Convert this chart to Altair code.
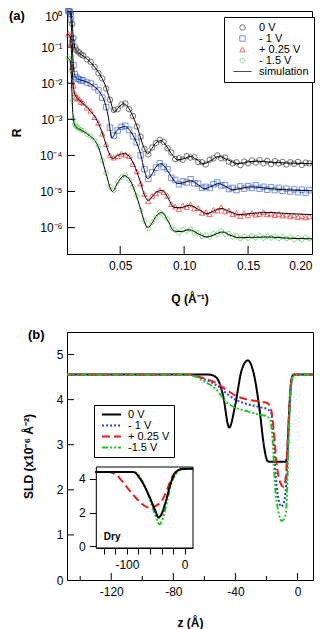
import altair as alt
import pandas as pd

FONT = "Liberation Sans"

# ---------------- Panel (a): reflectivity ----------------
SERIES_A = ["0 V", "- 1 V", "+ 0.25 V", "- 1.5 V"]
LEGEND_A = ["0 V", "- 1 V", "+ 0.25 V", "- 1.5 V", "simulation"]
COLORS_A = ["#333333", "#3d63dd", "#e8262b", "#3ec93e", "#000000"]
SHAPES_A = ["circle", "square", "triangle-up", "diamond", "M-3.3,0H3.3"]
WIDTHS_A = [1, 1, 1, 1, 2]

Q_DATA = [0.0095, 0.0105, 0.0115, 0.0125, 0.0135, 0.0145, 0.0155, 0.0167, 0.018, 0.0195,
          0.021, 0.024, 0.027, 0.030, 0.033, 0.036, 0.039, 0.042, 0.045, 0.048,
          0.051, 0.054, 0.057, 0.060, 0.063, 0.066, 0.069, 0.072, 0.075, 0.078,
          0.081, 0.084, 0.087, 0.090, 0.093, 0.096, 0.099, 0.102, 0.105, 0.108,
          0.111, 0.114, 0.117, 0.120, 0.123, 0.126, 0.129, 0.132, 0.135, 0.138,
          0.141, 0.144, 0.147, 0.150, 0.153, 0.156, 0.159, 0.162, 0.165, 0.168,
          0.171, 0.174, 0.177, 0.180, 0.183, 0.186, 0.189, 0.192, 0.195, 0.198]

# measured reflectivity, log10(R)
LOGR_0V = [0.01, -0.01, -0.09, -0.36, -0.75, -0.99, -1.07, -1.12, -1.15, -1.21,
           -1.23, -1.34, -1.41, -1.55, -1.72, -1.87, -2.15, -2.46, -2.74, -2.72,
           -2.59, -2.56, -2.72, -2.91, -3.20, -3.48, -3.82, -3.97, -3.78, -3.66,
           -3.57, -3.63, -3.80, -3.92, -4.10, -4.08, -4.12, -4.02, -4.06, -4.05,
           -4.18, -4.19, -4.25, -4.12, -4.08, -4.00, -4.08, -4.06, -4.17, -4.22,
           -4.19, -4.27, -4.17, -4.22, -4.14, -4.20, -4.13, -4.22, -4.15, -4.24,
           -4.16, -4.22, -4.18, -4.25, -4.19, -4.23, -4.18, -4.26, -4.20, -4.22]
LOGR_M1V = [0.00, -0.02, -0.23, -0.87, -1.50, -1.75, -1.83, -1.88, -1.89, -1.93,
            -1.92, -1.98, -2.01, -2.11, -2.20, -2.40, -2.66, -3.23, -3.45, -3.31,
            -3.21, -3.18, -3.29, -3.47, -3.64, -4.00, -4.38, -4.65, -4.47, -4.34,
            -4.22, -4.32, -4.38, -4.62, -4.68, -4.80, -4.72, -4.75, -4.66, -4.77,
            -4.78, -4.90, -4.87, -4.90, -4.80, -4.75, -4.83, -4.82, -4.93, -4.90,
            -4.96, -4.86, -4.92, -4.85, -4.90, -4.83, -4.92, -4.87, -4.95, -4.88,
            -4.96, -4.90, -4.98, -4.92, -5.00, -4.94, -5.02, -4.95, -5.03, -4.96]
LOGR_P025V = [-0.63, -0.67, -0.89, -1.55, -2.07, -2.28, -2.38, -2.41, -2.45, -2.52,
              -2.54, -2.68, -2.76, -2.94, -3.10, -3.40, -3.69, -4.00, -4.06, -4.02,
              -3.95, -3.98, -4.02, -4.24, -4.44, -4.78, -5.07, -5.27, -5.12, -5.05,
              -4.96, -5.02, -5.12, -5.35, -5.42, -5.49, -5.39, -5.43, -5.36, -5.47,
              -5.46, -5.59, -5.57, -5.63, -5.51, -5.53, -5.44, -5.55, -5.52, -5.63,
              -5.59, -5.68, -5.60, -5.66, -5.59, -5.64, -5.62, -5.57, -5.63, -5.61,
              -5.65, -5.62, -5.67, -5.64, -5.69, -5.66, -5.71, -5.68, -5.72, -5.69]
LOGR_M15V = [-1.29, -1.34, -1.65, -2.49, -2.99, -3.13, -3.20, -3.24, -3.25, -3.30,
             -3.31, -3.41, -3.47, -3.58, -3.75, -4.14, -4.49, -4.87, -4.97, -4.73,
             -4.60, -4.54, -4.68, -4.87, -5.12, -5.52, -5.81, -6.02, -5.85, -5.71,
             -5.57, -5.66, -5.76, -6.00, -6.07, -6.14, -6.06, -6.10, -6.04, -6.15,
             -6.14, -6.24, -6.21, -6.26, -6.16, -6.18, -6.09, -6.18, -6.16, -6.26,
             -6.23, -6.30, -6.24, -6.29, -6.23, -6.28, -6.22, -6.29, -6.23, -6.28,
             -6.24, -6.30, -6.25, -6.31, -6.26, -6.33, -6.28, -6.34, -6.26, -6.32]

# simulated curves, log10(R)
FIT_Q_0V = [0.0094, 0.0110, 0.0122, 0.0132, 0.0142, 0.0155, 0.018, 0.022, 0.026, 0.030,
            0.034, 0.038, 0.042, 0.0455, 0.049, 0.0525, 0.056, 0.060, 0.064, 0.068,
            0.0715, 0.075, 0.078, 0.082, 0.086, 0.090, 0.095, 0.100, 0.105, 0.110,
            0.115, 0.121, 0.127, 0.134, 0.142, 0.150, 0.158, 0.168, 0.180, 0.200]
FIT_LOGR_0V = [0.0, -0.02, -0.19, -0.67, -0.97, -1.09, -1.17, -1.27, -1.39, -1.55,
               -1.75, -2.03, -2.45, -2.79, -2.66, -2.57, -2.66, -2.92, -3.29, -3.73,
               -3.95, -3.80, -3.65, -3.59, -3.73, -3.95, -4.12, -4.09, -4.03, -4.12,
               -4.23, -4.14, -4.03, -4.12, -4.23, -4.18, -4.16, -4.19, -4.21, -4.23]
FIT_Q_M1V = [0.0094, 0.0108, 0.0118, 0.0128, 0.0138, 0.015, 0.018, 0.022, 0.026, 0.030,
             0.034, 0.038, 0.0405, 0.0435, 0.047, 0.050, 0.054, 0.058, 0.062, 0.066,
             0.069, 0.0715, 0.075, 0.078, 0.082, 0.086, 0.090, 0.095, 0.100, 0.105,
             0.110, 0.116, 0.121, 0.127, 0.132, 0.138, 0.145, 0.152, 0.160, 0.170,
             0.185, 0.200]
FIT_LOGR_M1V = [0.0, -0.04, -0.38, -1.17, -1.66, -1.83, -1.90, -1.94, -2.00, -2.10,
                -2.25, -2.54, -2.89, -3.51, -3.33, -3.23, -3.20, -3.33, -3.58, -3.97,
                -4.42, -4.64, -4.51, -4.32, -4.23, -4.37, -4.59, -4.78, -4.75, -4.70,
                -4.79, -4.92, -4.86, -4.78, -4.85, -4.95, -4.91, -4.87, -4.89, -4.93,
                -4.96, -4.98]
FIT_Q_P025V = [0.0094, 0.0108, 0.0118, 0.0128, 0.0138, 0.015, 0.018, 0.022, 0.026, 0.030,
               0.034, 0.037, 0.040, 0.044, 0.048, 0.0535, 0.058, 0.062, 0.066, 0.069,
               0.072, 0.0755, 0.079, 0.083, 0.087, 0.092, 0.097, 0.104, 0.111, 0.118,
               0.123, 0.129, 0.136, 0.143, 0.152, 0.166, 0.180, 0.200]
FIT_LOGR_P025V = [-0.65, -0.70, -1.07, -1.85, -2.20, -2.35, -2.47, -2.60, -2.74, -2.92,
                  -3.19, -3.48, -3.82, -4.09, -4.00, -3.95, -4.07, -4.36, -4.76, -5.10,
                  -5.25, -5.12, -5.00, -4.97, -5.15, -5.44, -5.45, -5.38, -5.49, -5.61,
                  -5.54, -5.47, -5.56, -5.64, -5.61, -5.58, -5.61, -5.64]
FIT_Q_M15V = [0.0094, 0.0108, 0.0118, 0.0128, 0.0138, 0.015, 0.018, 0.022, 0.026, 0.030,
              0.033, 0.036, 0.039, 0.044, 0.048, 0.0535, 0.058, 0.062, 0.066, 0.069,
              0.0715, 0.075, 0.078, 0.0825, 0.087, 0.092, 0.097, 0.104, 0.111, 0.118,
              0.124, 0.130, 0.136, 0.143, 0.152, 0.166, 0.180, 0.200]
FIT_LOGR_M15V = [-1.31, -1.36, -1.80, -2.74, -3.09, -3.19, -3.27, -3.35, -3.45, -3.58,
                 -3.77, -4.12, -4.51, -5.00, -4.76, -4.56, -4.71, -5.05, -5.49, -5.84,
                 -6.00, -5.87, -5.69, -5.58, -5.79, -6.09, -6.11, -6.06, -6.17, -6.26,
                 -6.19, -6.12, -6.21, -6.28, -6.27, -6.26, -6.29, -6.31]

XTICKS_A = [0.05, 0.10, 0.15, 0.20]
XTICKS_A_INNER = [0.05, 0.10, 0.15]
YTICKS_A = [1, 1e-1, 1e-2, 1e-3, 1e-4, 1e-5, 1e-6]
YTICKS_A_INNER = [1e-1, 1e-2, 1e-3, 1e-4, 1e-5, 1e-6]
Q_DOMAIN = [0.0084, 0.2]
R_DOMAIN = [1.86e-7, 1.0]

# ---------------- Panel (b): SLD profiles ----------------
SERIES_B = ["0 V", "- 1 V", "+ 0.25 V", "-1.5 V"]
COLORS_B = ["#000000", "#2a45d8", "#ee1c1c", "#22c422"]
DASHES_B = [[1, 0], [2, 2], [8, 4], [6, 2, 2, 2, 2, 2]]

Z_0V = [-150, -60, -56, -52, -48, -44, -40, -36, -32, -28, -24.5, -21.5, -19.5, -18,
        -8, -6.8, -5.8, -4.2, -2.8, -1, 10]
SLD_0V = [4.56, 4.56, 4.55, 4.48, 4.1, 3.38, 3.9, 4.65, 4.87, 4.55, 3.8, 2.95, 2.65, 2.62,
          2.62, 2.7, 3.4, 4.35, 4.55, 4.56, 4.56]
Z_M1V = [-150, -75, -70, -65, -60, -53, -45, -40, -32, -25, -19, -17, -15.5, -14, -12.5,
         -10.5, -8.5, -7, -5.8, -4.5, -3, -1, 10]
SLD_M1V = [4.56, 4.56, 4.55, 4.52, 4.45, 4.34, 4.12, 4.0, 3.9, 3.84, 3.78, 3.72, 3.2, 2.3,
           1.85, 1.63, 1.75, 2.3, 3.3, 4.2, 4.53, 4.56, 4.56]
Z_P025V = [-150, -75, -70, -65, -60, -53, -45, -40, -32, -25, -20, -17.5, -15.5, -13.5,
           -11, -9, -7.5, -6, -4.5, -3, -1, 10]
SLD_P025V = [4.56, 4.56, 4.55, 4.52, 4.47, 4.38, 4.2, 4.09, 4.0, 3.96, 3.93, 3.85, 3.4, 2.6,
             2.15, 2.07, 2.3, 3.3, 4.25, 4.53, 4.56, 4.56]
Z_M15V = [-150, -75, -70, -65, -60, -53, -45, -40, -32, -25, -20, -18, -16, -14.5, -12.5,
          -10, -8, -7, -5.8, -4.5, -3, -1, 10]
SLD_M15V = [4.56, 4.56, 4.55, 4.5, 4.4, 4.25, 3.92, 3.82, 3.74, 3.67, 3.63, 3.58, 3.1, 2.1,
            1.55, 1.31, 1.4, 1.7, 3.0, 4.1, 4.5, 4.56, 4.56]

# inset: dry profiles
DRY_Z_0V = [-155, -92, -86, -79, -73, -67, -61, -55.5, -50, -45.5, -41, -35, -30, -26.3,
            -21, -17.5, -12, -8.8, -4, 15]
DRY_SLD_0V = [4.42, 4.42, 4.38, 4.1, 3.8, 3.4, 2.95, 2.5, 2.05, 1.71, 1.85, 2.41, 3.0, 3.5,
              4.05, 4.3, 4.5, 4.56, 4.6, 4.6]
DRY_Z_P025V = [-155, -131, -124, -116.7, -109, -102, -95, -87.5, -80, -73, -67, -61, -55,
               -49.8, -44, -38, -33, -29, -24.5, -20.5, -16, -11.7, -6, 15]
DRY_SLD_P025V = [4.42, 4.42, 4.35, 4.2, 3.9, 3.6, 3.3, 3.0, 2.72, 2.5, 2.36, 2.3, 2.33,
                 2.4, 2.55, 2.8, 3.15, 3.5, 3.9, 4.2, 4.4, 4.5, 4.58, 4.6]
DRY_Z_M15V = [-155, -90, -84, -78, -72, -65, -58.5, -52, -47, -43.8, -40, -35, -29, -23.5,
              -18, -14.7, -10, -5, 15]
DRY_SLD_M15V = [4.42, 4.42, 4.38, 4.15, 3.75, 3.25, 2.6, 1.95, 1.5, 1.31, 1.45, 2.0, 2.9,
                3.7, 4.15, 4.3, 4.5, 4.6, 4.6]

Z_DOMAIN = [-148.5, 10]
SLD_DOMAIN = [0, 5.5]
Z_MAJOR = [-120, -80, -40, 0]
Z_MINOR = [-140, -100, -60, -20]
SLD_TICKS = [1, 2, 3, 4, 5]
INSET_Z_DOMAIN = [-153, 14.4]
INSET_SLD_DOMAIN = [-0.09, 4.71]
INSET_Z_TICKS = [-140, -120, -100, -80, -60, -40, -20, 0]
INSET_SLD_TICKS = [0, 2, 4]

# ---------------- layout constants ----------------
W_A, H_A = 245, 243
W_B, H_B = 246, 248
INSET_X_RANGE = [29.3, 126]
INSET_Y_RANGE = [216, 135]

# ---------------- tables ----------------
pts_rows = []
for s, vals in zip(SERIES_A, [LOGR_0V, LOGR_M1V, LOGR_P025V, LOGR_M15V]):
    for q, l in zip(Q_DATA, vals):
        pts_rows.append({"Q": q, "R": 10 ** l, "sa": s})
df_pts = pd.DataFrame(pts_rows)

fit_rows = []
for s, qs, vals in zip(SERIES_A,
                       [FIT_Q_0V, FIT_Q_M1V, FIT_Q_P025V, FIT_Q_M15V],
                       [FIT_LOGR_0V, FIT_LOGR_M1V, FIT_LOGR_P025V, FIT_LOGR_M15V]):
    for q, l in zip(qs, vals):
        fit_rows.append({"Q": q, "R": 10 ** l, "sa": "simulation", "curve": s})
df_fit = pd.DataFrame(fit_rows)

prof_rows = []
for s, zs, vals in zip(SERIES_B, [Z_0V, Z_M1V, Z_P025V, Z_M15V],
                       [SLD_0V, SLD_M1V, SLD_P025V, SLD_M15V]):
    for z, v in zip(zs, vals):
        prof_rows.append({"z": z, "sld": v, "sb": s})
df_prof = pd.DataFrame(prof_rows)

dry_rows = []
for s, zs, vals in zip(["+ 0.25 V", "-1.5 V", "0 V"],
                       [DRY_Z_P025V, DRY_Z_M15V, DRY_Z_0V],
                       [DRY_SLD_P025V, DRY_SLD_M15V, DRY_SLD_0V]):
    for z, v in zip(zs, vals):
        dry_rows.append({"z": z, "sld": v, "sb": s})
df_dry = pd.DataFrame(dry_rows)

# ---------------- panel (a) chart ----------------
LABEL_EXPR_A = ("['10\u2070','10\u207b\u00b9','10\u207b\u00b2','10\u207b\u00b3',"
                "'10\u207b\u2074','10\u207b\u2075','10\u207b\u2076']"
                "[round(-log(datum.value)/LN10)]")

X_A = alt.X("Q:Q", scale=alt.Scale(domain=Q_DOMAIN, nice=False, zero=False),
            axis=alt.Axis(values=XTICKS_A, format=".2f", ticks=False, labelPadding=6,
                          title="Q (\u00c5\u207b\u00b9)", titlePadding=22, grid=False))
Y_A = alt.Y("R:Q", scale=alt.Scale(type="log", domain=R_DOMAIN, nice=False),
            axis=alt.Axis(values=YTICKS_A, labelExpr=LABEL_EXPR_A, ticks=False,
                          labelPadding=5, labelFlush=True, title="R", titlePadding=16,
                          grid=False))
LEG_A = alt.Legend(title=None, orient="none", legendX=157, legendY=6, strokeColor="black",
                   fillColor="white", padding=5, labelFontSize=11, symbolSize=30,
                   symbolOffset=8, labelOffset=11, rowPadding=-1, labelColor="black")
color_a = alt.Color("sa:N", scale=alt.Scale(domain=LEGEND_A, range=COLORS_A), legend=LEG_A)
shape_a = alt.Shape("sa:N", scale=alt.Scale(domain=LEGEND_A, range=SHAPES_A), legend=LEG_A)
sw_a = alt.StrokeWidth("sa:N", scale=alt.Scale(domain=LEGEND_A, range=WIDTHS_A), legend=LEG_A)

points_a = alt.Chart(df_pts).mark_point(filled=False, size=30).encode(
    x=X_A, y=Y_A, color=color_a, shape=shape_a, strokeWidth=sw_a)
lines_a = alt.Chart(df_fit).mark_line(interpolate="monotone").encode(
    x=X_A, y=Y_A, color=color_a, strokeWidth=sw_a, detail="curve:N")
xt_a = alt.Chart(pd.DataFrame({"Q": XTICKS_A_INNER})).mark_rule(color="black").encode(
    x=X_A, y=alt.value(H_A), y2=alt.value(H_A - 8))
yt_a = alt.Chart(pd.DataFrame({"R": YTICKS_A_INNER})).mark_rule(color="black").encode(
    y=Y_A, x=alt.value(0), x2=alt.value(8))
lab_a = alt.Chart(pd.DataFrame({"t": ["(a)"]})).mark_text(
    font=FONT, fontSize=13, fontWeight="bold", align="left", baseline="top", color="black"
).encode(text="t:N", x=alt.value(-58), y=alt.value(-1))

chart_a = alt.layer(points_a, lines_a, xt_a, yt_a, lab_a).properties(width=W_A, height=H_A)

# ---------------- panel (b) chart ----------------
X_B = alt.X("z:Q", scale=alt.Scale(domain=Z_DOMAIN, nice=False, zero=False),
            axis=alt.Axis(values=Z_MAJOR, labelExpr="'' + datum.value", ticks=False,
                          labelPadding=6, title="z  (\u00c5)", titlePadding=20, grid=False))
Y_B = alt.Y("sld:Q", scale=alt.Scale(domain=SLD_DOMAIN, nice=False, zero=False),
            axis=alt.Axis(values=[0] + SLD_TICKS, ticks=False, labelPadding=4,
                          title="SLD (x10\u207b\u2076 \u00c5\u207b\u00b2)", titlePadding=21,
                          grid=False))
LEG_B = alt.Legend(title=None, orient="none", legendX=27, legendY=73, strokeColor="black",
                   fillColor="white", padding=4, labelFontSize=11,
                   symbolType="M-3.47,0H3.47", symbolSize=30, symbolStrokeWidth=2,
                   symbolOffset=8, labelOffset=11, rowPadding=-1, labelColor="black")
color_b = alt.Color("sb:N", scale=alt.Scale(domain=SERIES_B, range=COLORS_B), legend=LEG_B)
dash_b = alt.StrokeDash("sb:N", scale=alt.Scale(domain=SERIES_B, range=DASHES_B),
                        legend=LEG_B)

lines_b = alt.Chart(df_prof).mark_line(strokeWidth=2, interpolate="monotone", clip=True).encode(
    x=X_B, y=Y_B, color=color_b, strokeDash=dash_b, detail="sb:N")
xt_b_major = alt.Chart(pd.DataFrame({"z": Z_MAJOR})).mark_rule(color="black").encode(
    x=X_B, y=alt.value(H_B), y2=alt.value(H_B - 7))
xt_b_minor = alt.Chart(pd.DataFrame({"z": Z_MINOR})).mark_rule(color="black").encode(
    x=X_B, y=alt.value(H_B), y2=alt.value(H_B - 4))
yt_b = alt.Chart(pd.DataFrame({"sld": SLD_TICKS})).mark_rule(color="black").encode(
    y=Y_B, x=alt.value(0), x2=alt.value(7))
lab_b = alt.Chart(pd.DataFrame({"t": ["(b)"]})).mark_text(
    font=FONT, fontSize=13, fontWeight="bold", align="left", baseline="top", color="black"
).encode(text="t:N", x=alt.value(-39), y=alt.value(-3))

main_b = alt.layer(lines_b, xt_b_major, xt_b_minor, yt_b, lab_b)

X_IN = alt.X("z:Q", scale=alt.Scale(domain=INSET_Z_DOMAIN, range=INSET_X_RANGE, nice=False,
                                    zero=False),
             axis=alt.Axis(orient="bottom", offset=INSET_Y_RANGE[0] - H_B,
                           values=INSET_Z_TICKS,
                           labelExpr="datum.value == -100 || datum.value == 0 ? '' + datum.value : ''",
                           tickSize=6, labelPadding=5, title=None, grid=False))
Y_IN = alt.Y("sld:Q", scale=alt.Scale(domain=INSET_SLD_DOMAIN, range=INSET_Y_RANGE,
                                      nice=False, zero=False),
             axis=alt.Axis(orient="left", offset=-INSET_X_RANGE[0], values=INSET_SLD_TICKS,
                           tickSize=7, labelPadding=4, title=None, grid=False))

frame_in = alt.Chart(pd.DataFrame({"z": [INSET_Z_DOMAIN[0]], "z2": [INSET_Z_DOMAIN[1]],
                                   "sld": [INSET_SLD_DOMAIN[0]], "sld2": [INSET_SLD_DOMAIN[1]]})
                     ).mark_rect(fill="white", stroke="black", strokeWidth=1).encode(
    x=X_IN, x2="z2:Q", y=Y_IN, y2="sld2:Q")
lines_in = alt.Chart(df_dry).mark_line(strokeWidth=2, interpolate="monotone", clip=True).encode(
    x=X_IN, y=Y_IN, color=color_b, strokeDash=dash_b, detail="sb:N")
dry_txt = alt.Chart(pd.DataFrame({"z": [-140], "sld": [0.38], "t": ["Dry"]})).mark_text(
    font=FONT, fontSize=10, fontWeight="bold", align="left", baseline="alphabetic",
    color="black").encode(x=X_IN, y=Y_IN, text="t:N")

inset_b = alt.layer(frame_in, lines_in, dry_txt)

chart_b = alt.layer(main_b, inset_b).resolve_scale(
    x="independent", y="independent").properties(width=W_B, height=H_B)

chart = alt.vconcat(chart_a, chart_b, spacing=23).resolve_scale(
    color="independent", shape="independent",
    strokeWidth="independent", strokeDash="independent"
).resolve_legend(
    color="independent", shape="independent",
    strokeWidth="independent", strokeDash="independent"
).properties(
    padding={"left": 0, "top": -3, "right": 0, "bottom": 0}
).configure_view(stroke="black", strokeWidth=1).configure_axis(
    labelFont=FONT, titleFont=FONT, labelFontSize=12, titleFontSize=12,
    titleFontWeight="bold", labelColor="black", titleColor="black",
    domainColor="black", tickColor="black", domainWidth=1
).configure_legend(labelFont=FONT)

chart.save("out.html", embed_options={"renderer": "svg", "actions": False})
